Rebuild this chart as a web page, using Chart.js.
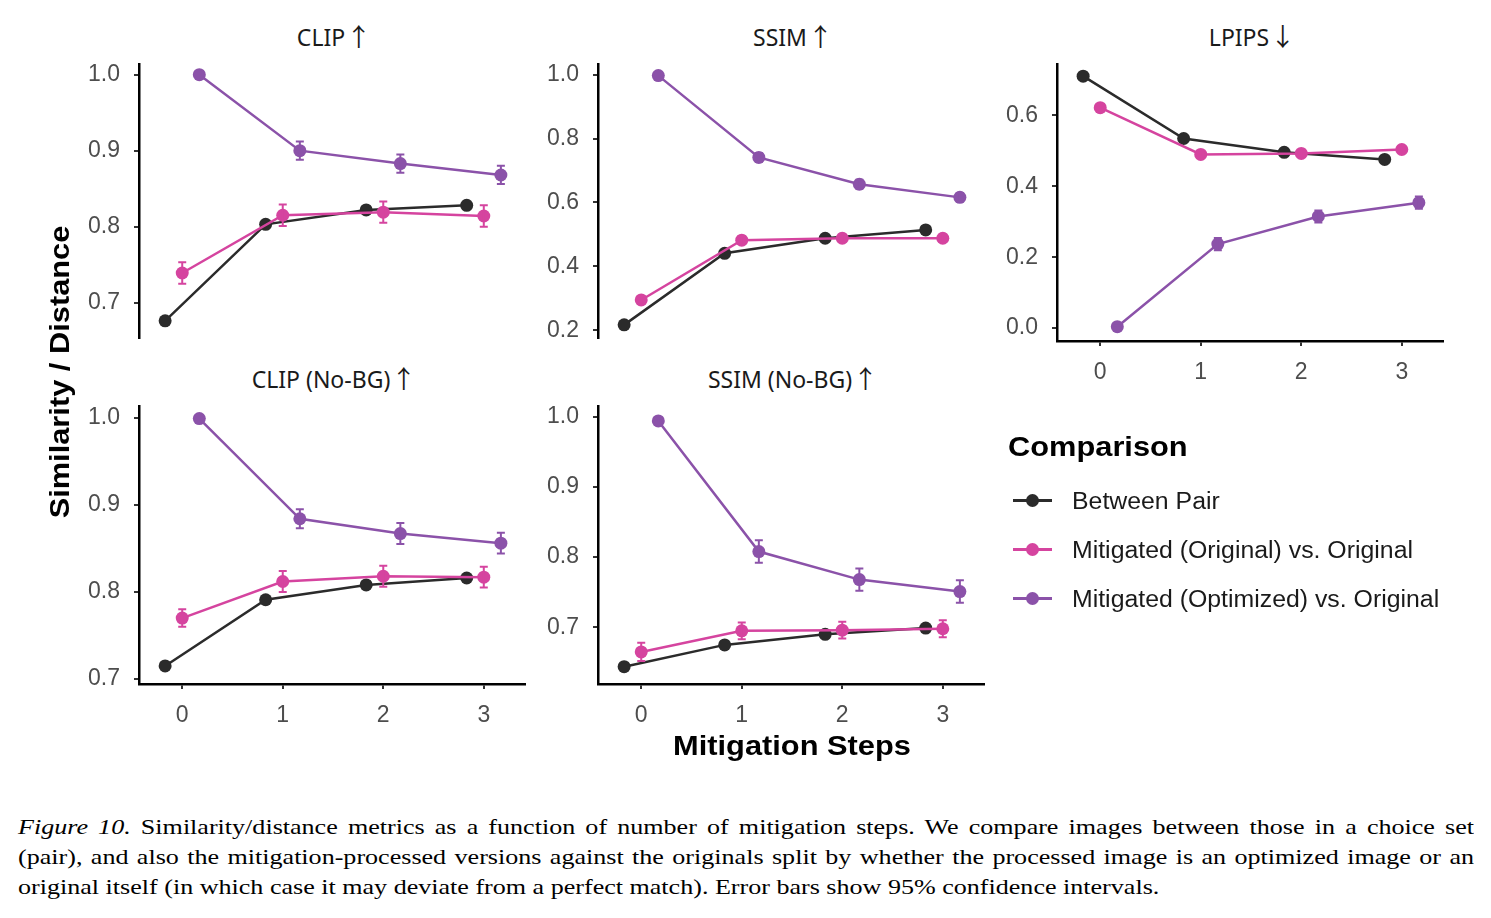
<!DOCTYPE html>
<html>
<head>
<meta charset="utf-8">
<script src="https://cdn.jsdelivr.net/npm/chart.js@4.4.0/dist/chart.umd.min.js"></script>
<style>
  body { margin: 0; background: #fff; width: 1491px; height: 918px; position: relative; overflow: hidden; }
  canvas { position: absolute; }
  .ptitle { position: absolute; width: 386px; text-align: center; font-family: 'Noto Sans'; font-size: 23px; line-height: 23px; color: #1a1a1a; white-space: nowrap; }
  .ptitle .arr { font-family: 'Noto Sans CJK SC'; font-size: 25px; margin-left: -5px; }
  .bold { position: absolute; font-family: 'Liberation Sans'; font-weight: bold; color: #000; white-space: nowrap; }
  .leg { position: absolute; left: 1008px; height: 24px; width: 460px; }
  .leg .ln { position: absolute; left: 5px; top: 10px; width: 39px; height: 3px; }
  .leg .dot { position: absolute; left: 18px; top: 5px; width: 13px; height: 13px; border-radius: 50%; }
  .leg .lab { position: absolute; left: 64px; top: 0; font-family: 'Liberation Sans'; font-size: 23px; line-height: 24px; color: #1a1a1a; white-space: nowrap; transform: scaleX(1.08); transform-origin: left center; }
  .capbox { position: absolute; left: 18px; top: 812px; width: 1229px; transform: scaleX(1.1847); transform-origin: left top; }
  .cap { font-family: 'Liberation Serif'; font-size: 22px; line-height: 30px; color: #000; white-space: nowrap; }
  .cap.j { text-align: justify; text-align-last: justify; white-space: normal; }
</style>
</head>
<body>

<div class="ptitle" style="left:141px; top:24px;">CLIP <span class="arr">↑</span></div>
<div class="ptitle" style="left:600px; top:24px;">SSIM <span class="arr">↑</span></div>
<div class="ptitle" style="left:1059px; top:24px;">LPIPS <span class="arr">↓</span></div>
<div class="ptitle" style="left:141px; top:366px;">CLIP (No-BG) <span class="arr">↑</span></div>
<div class="ptitle" style="left:600px; top:366px;">SSIM (No-BG) <span class="arr">↑</span></div>

<canvas id="cClip" width="476" height="330" style="left:59px; top:36px;"></canvas>
<canvas id="cSsim" width="476" height="330" style="left:518px; top:36px;"></canvas>
<canvas id="cLpips" width="476" height="350" style="left:977px; top:36px;"></canvas>
<canvas id="cClipNb" width="476" height="351" style="left:59px; top:378px;"></canvas>
<canvas id="cSsimNb" width="476" height="351" style="left:518px; top:378px;"></canvas>

<div class="bold" style="left:-90px; top:357px; width:300px; text-align:center; font-size:28px; line-height:30px; transform: rotate(-90deg) scaleX(1.1);">Similarity / Distance</div>
<div class="bold" style="left:592px; top:731px; width:400px; text-align:center; font-size:28px; line-height:30px; transform: scaleX(1.1);">Mitigation Steps</div>

<div class="bold" style="left:1008px; top:432px; font-size:28px; line-height:30px; transform: scaleX(1.1); transform-origin: left center;">Comparison</div>
<div id="legend"></div>

<div class="capbox">
  <div class="cap j"><i>Figure 10.</i> Similarity/distance metrics as a function of number of mitigation steps. We compare images between those in a choice set</div>
  <div class="cap j">(pair), and also the mitigation-processed versions against the originals split by whether the processed image is an optimized image or an</div>
  <div class="cap">original itself (in which case it may deviate from a perfect match). Error bars show 95% confidence intervals.</div>
</div>

<script>
// ---- data ----
var steps = [0, 1, 2, 3];
var seriesNames = ['Between Pair', 'Mitigated (Original) vs. Original', 'Mitigated (Optimized) vs. Original'];
var seriesColors = ['#2b2b2b', '#d5449f', '#8b52a9'];
var dodge = [-0.17, 0, 0.17];

// CLIP
var clipPair = [0.676, 0.803, 0.822, 0.828];
var clipOrig = [0.739, 0.815, 0.819, 0.814];
var clipOpt = [1.000, 0.900, 0.883, 0.868];
var clipOrigErr = [0.014, 0.014, 0.014, 0.014];
var clipOptErr = [0, 0.012, 0.012, 0.012];
var clipTicks = [0.7, 0.8, 0.9, 1.0];

// SSIM
var ssimPair = [0.217, 0.441, 0.488, 0.514];
var ssimOrig = [0.295, 0.482, 0.488, 0.488];
var ssimOpt = [0.997, 0.741, 0.657, 0.616];
var ssimOrigErr = [0.010, 0.012, 0.012, 0.012];
var ssimOptErr = [0, 0.014, 0.014, 0.014];
var ssimTicks = [0.2, 0.4, 0.6, 0.8, 1.0];

// LPIPS
var lpipsPair = [0.711, 0.535, 0.496, 0.476];
var lpipsOrig = [0.622, 0.490, 0.493, 0.504];
var lpipsOpt = [0.004, 0.237, 0.315, 0.354];
var lpipsOrigErr = [0.006, 0.006, 0.006, 0.006];
var lpipsOptErr = [0.004, 0.017, 0.017, 0.017];
var lpipsTicks = [0.0, 0.2, 0.4, 0.6];

// CLIP (No-BG)
var clipNbPair = [0.715, 0.791, 0.808, 0.816];
var clipNbOrig = [0.770, 0.812, 0.818, 0.817];
var clipNbOpt = [0.999, 0.884, 0.867, 0.856];
var clipNbOrigErr = [0.010, 0.012, 0.012, 0.012];
var clipNbOptErr = [0, 0.011, 0.012, 0.012];
var clipNbTicks = [0.7, 0.8, 0.9, 1.0];

// SSIM (No-BG)
var ssimNbPair = [0.644, 0.675, 0.690, 0.699];
var ssimNbOrig = [0.665, 0.695, 0.696, 0.698];
var ssimNbOpt = [0.994, 0.808, 0.768, 0.751];
var ssimNbOrigErr = [0.013, 0.012, 0.012, 0.012];
var ssimNbOptErr = [0.003, 0.016, 0.016, 0.016];
var ssimNbTicks = [0.7, 0.8, 0.9, 1.0];

// ---- error bars plugin ----
var errorBars = {
    id: 'errorBars',
    afterDatasetsDraw: function (chart) {
        var ctx = chart.ctx, ys = chart.scales.y;
        chart.data.datasets.forEach(function (ds, di) {
            if (!ds.errors) return;
            var meta = chart.getDatasetMeta(di);
            meta.data.forEach(function (pt, i) {
                var e = ds.errors[i];
                if (!e) return;
                var v = ds.data[i].y;
                var y1 = ys.getPixelForValue(v - e), y2 = ys.getPixelForValue(v + e);
                ctx.save();
                ctx.strokeStyle = ds.borderColor;
                ctx.lineWidth = 2;
                ctx.beginPath();
                ctx.moveTo(pt.x, y1); ctx.lineTo(pt.x, y2);
                ctx.moveTo(pt.x - 4, y1); ctx.lineTo(pt.x + 4, y1);
                ctx.moveTo(pt.x - 4, y2); ctx.lineTo(pt.x + 4, y2);
                ctx.stroke();
                ctx.restore();
            });
        });
    }
};

var tickFont = { family: 'Liberation Sans', size: 23 };

function makePanel(id, pair, orig, opt, origErr, optErr, yTicks, yMin, yMax, showX) {
    var vals = [pair, orig, opt];
    var errs = [null, origErr, optErr];
    // purple drawn last (index 0 is on top in Chart.js)
    var datasets = [2, 1, 0].map(function (k) {
        return {
            label: seriesNames[k],
            data: steps.map(function (s, i) { return { x: s + dodge[k], y: vals[k][i] }; }),
            errors: errs[k],
            borderColor: seriesColors[k],
            backgroundColor: seriesColors[k],
            pointBackgroundColor: seriesColors[k],
            pointBorderWidth: 0,
            pointRadius: 6.5,
            borderWidth: 2.5,
            tension: 0,
            clip: false
        };
    });

    new Chart(document.getElementById(id), {
        type: 'line',
        data: { datasets: datasets },
        options: {
            responsive: false,
            animation: false,
            events: [],
            layout: { padding: { top: 26, right: 10, left: 0, bottom: showX ? 0 : 26 } },
            plugins: { legend: { display: false }, tooltip: { enabled: false } },
            scales: {
                x: {
                    type: 'linear',
                    display: showX,
                    min: -0.43,
                    max: 3.41,
                    afterBuildTicks: function (s) { s.ticks = steps.map(function (v) { return { value: v }; }); },
                    afterFit: function (s) { if (showX) s.height = 45; },
                    border: { display: true, color: '#000', width: 2.5 },
                    grid: { drawOnChartArea: false, drawTicks: true, tickLength: 5, color: '#333', lineWidth: 2 },
                    ticks: { color: '#4d4d4d', font: tickFont, padding: 13, maxRotation: 0, callback: function (v) { return String(v); } }
                },
                y: {
                    type: 'linear',
                    min: yMin,
                    max: yMax,
                    afterBuildTicks: function (s) { s.ticks = yTicks.map(function (v) { return { value: v }; }); },
                    afterFit: function (s) { s.width = 80; },
                    border: { display: true, color: '#000', width: 2.5 },
                    grid: { drawOnChartArea: false, drawTicks: true, tickLength: 5, color: '#333', lineWidth: 2 },
                    ticks: { color: '#4d4d4d', font: tickFont, padding: 14, callback: function (v) { return v.toFixed(1); } }
                }
            }
        },
        plugins: [errorBars]
    });
}

makePanel('cClip', clipPair, clipOrig, clipOpt, clipOrigErr, clipOptErr, clipTicks, 0.6532, 1.0143, false);
makePanel('cSsim', ssimPair, ssimOrig, ssimOpt, ssimOrigErr, ssimOptErr, ssimTicks, 0.1753, 1.034, false);
makePanel('cLpips', lpipsPair, lpipsOrig, lpipsOpt, lpipsOrigErr, lpipsOptErr, lpipsTicks, -0.0364, 0.7458, true);
makePanel('cClipNb', clipNbPair, clipNbOrig, clipNbOpt, clipNbOrigErr, clipNbOptErr, clipNbTicks, 0.6943, 1.0137, true);
makePanel('cSsimNb', ssimNbPair, ssimNbOrig, ssimNbOpt, ssimNbOrigErr, ssimNbOptErr, ssimNbTicks, 0.6193, 1.0156, true);

// ---- legend ----
var legendTops = [489, 538, 587];
var legend = document.getElementById('legend');
seriesNames.forEach(function (name, k) {
    var item = document.createElement('div');
    item.className = 'leg';
    item.style.top = legendTops[k] + 'px';
    item.innerHTML = '<span class="ln" style="background:' + seriesColors[k] + '"></span>' +
        '<span class="dot" style="background:' + seriesColors[k] + '"></span>' +
        '<span class="lab">' + name + '</span>';
    legend.appendChild(item);
});
</script>
</body>
</html>
